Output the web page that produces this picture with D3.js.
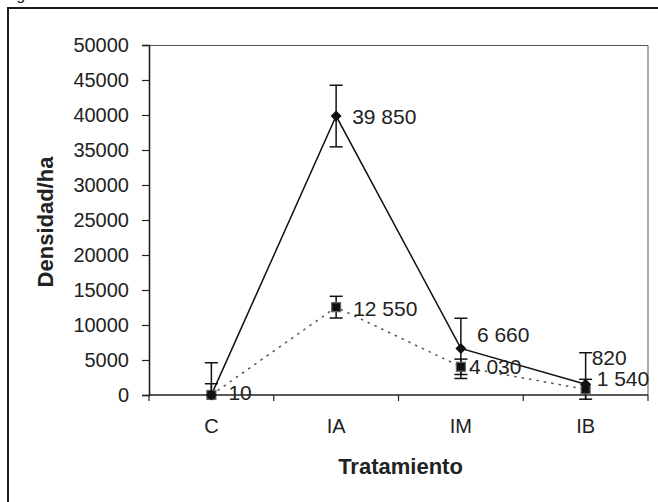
<!DOCTYPE html>
<html>
<head>
<meta charset="utf-8">
<script src="https://d3js.org/d3.v7.min.js"></script>
<style>
body { margin: 0; background: #fff; }
svg { display: block; font-family: "Liberation Sans", Arial, sans-serif; }
</style>
</head>
<body>
<div id="chart"></div>
<script>
// data
var categories = ["C", "IA", "IM", "IB"];
var densidadA = [10, 39850, 6660, 1540];      // solid line, diamonds
var errorA = [4600, 4400, 4300, 4500];
var densidadB = [10, 12550, 4030, 820];       // dotted line, squares
var errorB = [1600, 1550, 1100, 1420];
var labelA = [true, true, true, true];
var labelB = [false, true, true, true];
var yTicks = [0, 5000, 10000, 15000, 20000, 25000, 30000, 35000, 40000, 45000, 50000];

// label offsets (px) from each point
var offA = [[17, -2], [16, 0], [16, -14], [11, -6]];
var offB = [[0, 0], [17, 1], [8, 0], [6, -32]];

var W = 658, H = 502;
var margin = {top: 45, right: 10, bottom: 107, left: 149},
    width = 648 - margin.left,
    height = 395 - margin.top;

var root = d3.select("#chart").append("svg")
  .attr("width", W)
  .attr("height", H);

// outer frame (cut at the edges of the picture)
root.append("path")
  .attr("d", "M8," + (H + 5) + "V8H" + (W + 5))
  .attr("fill", "none")
  .attr("stroke", "#1a1a1a")
  .attr("stroke-width", 2);

// bit of the caption above the frame
root.append("text")
  .attr("x", 3).attr("y", 0)
  .attr("font-size", 16)
  .attr("fill", "#222")
  .text("Fig");

var svg = root.append("g")
  .attr("transform", "translate(" + margin.left + "," + margin.top + ")");

var x = d3.scaleBand().domain(categories).range([0, width]);
var y = d3.scaleLinear().domain([0, 50000]).range([height, 0]);
var cx = function(i) { return x(categories[i]) + x.bandwidth() / 2; };

svg.append("clipPath").attr("id", "clip")
  .append("rect").attr("x", -5).attr("y", -5)
  .attr("width", width + 10).attr("height", height + 10);

// plot area border top/right
svg.append("path")
  .attr("d", "M0,0.5H" + width + "V" + height)
  .attr("fill", "none")
  .attr("stroke", "#555")
  .attr("stroke-width", 1);

// Y axis
var yAxis = svg.append("g")
  .call(d3.axisLeft(y).tickValues(yTicks).tickFormat(d3.format("d")).tickSize(7).tickPadding(13));
yAxis.select(".domain").attr("stroke", "#222").attr("stroke-width", 1.6);
yAxis.selectAll(".tick line").attr("stroke", "#222").attr("stroke-width", 1.2);
yAxis.selectAll("text")
  .attr("font-size", 20)
  .attr("fill", "#222")
  .attr("font-family", "Liberation Sans, Arial, sans-serif");

// X axis: line, ticks between categories, labels
svg.append("line")
  .attr("x1", 0).attr("x2", width)
  .attr("y1", height).attr("y2", height)
  .attr("stroke", "#222").attr("stroke-width", 1.6);
var edges = categories.map(function(c) { return x(c); }).concat([width]);
svg.selectAll(".xtick").data(edges).enter().append("line")
  .attr("x1", function(d) { return d; }).attr("x2", function(d) { return d; })
  .attr("y1", height).attr("y2", height + 6)
  .attr("stroke", "#222").attr("stroke-width", 1.2);
svg.selectAll(".xlab").data(categories).enter().append("text")
  .attr("x", function(d, i) { return cx(i); })
  .attr("y", height + 38)
  .attr("text-anchor", "middle")
  .attr("font-size", 20)
  .attr("fill", "#222")
  .text(function(d) { return d; });

// axis titles
svg.append("text")
  .attr("x", width / 2 + 2)
  .attr("y", height + 79)
  .attr("text-anchor", "middle")
  .attr("font-size", 22)
  .attr("font-weight", "bold")
  .attr("fill", "#222")
  .text("Tratamiento");
svg.append("text")
  .attr("transform", "translate(" + (53 - margin.left) + "," + (height / 2 + 2) + ") rotate(-90)")
  .attr("text-anchor", "middle")
  .attr("font-size", 22)
  .attr("font-weight", "bold")
  .attr("fill", "#222")
  .text("Densidad/ha");

// lines
var line = d3.line()
  .x(function(d, i) { return cx(i); })
  .y(function(d) { return y(d); });

svg.append("path")
  .datum(densidadB)
  .attr("fill", "none")
  .attr("stroke", "#555")
  .attr("stroke-width", 1.5)
  .attr("stroke-dasharray", "2.5,5")
  .attr("d", line);

svg.append("path")
  .datum(densidadA)
  .attr("fill", "none")
  .attr("stroke", "#111")
  .attr("stroke-width", 1.5)
  .attr("d", line);

// error bars
function errorBars(vals, errs) {
  var g = svg.append("g").attr("clip-path", "url(#clip)");
  vals.forEach(function(v, i) {
    var top = y(v + errs[i]), bot = y(v - errs[i]);
    g.append("line")
      .attr("x1", cx(i)).attr("x2", cx(i))
      .attr("y1", top).attr("y2", bot)
      .attr("stroke", "#111").attr("stroke-width", 1.5);
    [top, bot].forEach(function(yy) {
      g.append("line")
        .attr("x1", cx(i) - 6.5).attr("x2", cx(i) + 6.5)
        .attr("y1", yy).attr("y2", yy)
        .attr("stroke", "#111").attr("stroke-width", 1.5);
    });
  });
}
errorBars(densidadA, errorA);
errorBars(densidadB, errorB);

// markers
svg.selectAll(".sq").data(densidadB).enter().append("rect")
  .attr("x", function(d, i) { return cx(i) - 4.5; })
  .attr("y", function(d) { return y(d) - 4.5; })
  .attr("width", 9).attr("height", 9)
  .attr("fill", "#111")
  .attr("stroke", "#666")
  .attr("stroke-width", 1.2);

svg.selectAll(".dm").data(densidadA).enter().append("path")
  .attr("d", function(d, i) {
    var px = cx(i), py = y(d);
    return "M" + px + "," + (py - 5.5) + "L" + (px + 5.5) + "," + py + "L" + px + "," + (py + 5.5) + "L" + (px - 5.5) + "," + py + "Z";
  })
  .attr("fill", "#111");

// data labels with space as thousands separator
var fmt = function(v) { return d3.format(",")(v).replace(/,/g, " "); };
function dataLabels(vals, show, off) {
  vals.forEach(function(v, i) {
    if (!show[i]) return;
    svg.append("text")
      .attr("x", cx(i) + off[i][0])
      .attr("y", y(v) + off[i][1])
      .attr("dy", "0.36em")
      .attr("font-size", 21)
      .attr("fill", "#222")
      .text(fmt(v));
  });
}
dataLabels(densidadA, labelA, offA);
dataLabels(densidadB, labelB, offB);
</script>
</body>
</html>
